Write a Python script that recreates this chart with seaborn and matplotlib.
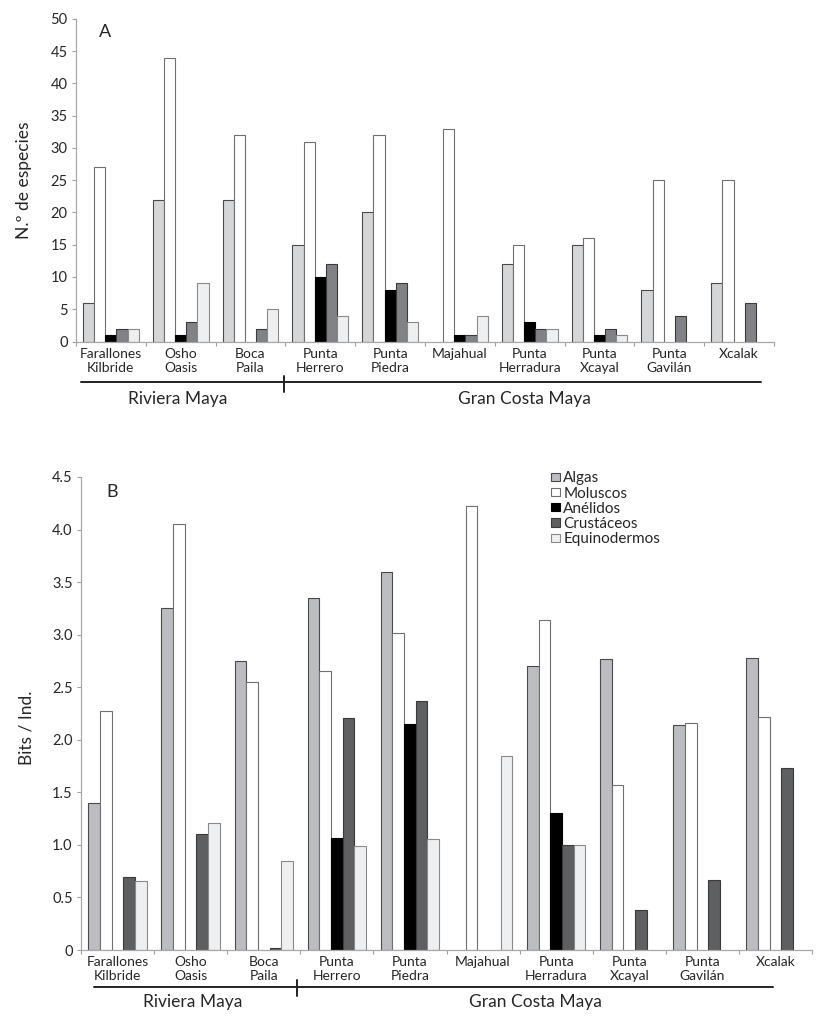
import matplotlib
matplotlib.use('Agg')
import matplotlib.pyplot as plt
from matplotlib.patches import Patch
from matplotlib.ticker import FuncFormatter, MultipleLocator, FixedLocator
import pandas as pd
import seaborn as sns

sites = ['Farallones\nKilbride', 'Osho\nOasis', 'Boca\nPaila', 'Punta\nHerrero', 'Punta\nPiedra',
         'Majahual', 'Punta\nHerradura', 'Punta\nXcayal', 'Punta\nGavilán', 'Xcalak']
groups = ['Algas', 'Moluscos', 'Anélidos', 'Crustáceos', 'Equinodermos']

# Panel A: number of species
species_algas = [6, 22, 22, 15, 20, 0, 12, 15, 8, 9]
species_moluscos = [27, 44, 32, 31, 32, 33, 15, 16, 25, 25]
species_anelidos = [1, 1, 0, 10, 8, 1, 3, 1, 0, 0]
species_crustaceos = [2, 3, 2, 12, 9, 1, 2, 2, 4, 6]
species_equinodermos = [2, 9, 5, 4, 3, 4, 2, 1, 0, 0]

# Panel B: diversity (bits / ind.)
div_algas = [1.40, 3.25, 2.75, 3.35, 3.60, 0, 2.70, 2.77, 2.14, 2.78]
div_moluscos = [2.27, 4.05, 2.55, 2.65, 3.02, 4.22, 3.14, 1.57, 2.16, 2.22]
div_anelidos = [0, 0, 0, 1.07, 2.15, 0, 1.30, 0, 0, 0]
div_crustaceos = [0.69, 1.10, 0.02, 2.21, 2.37, 0, 1.00, 0.38, 0.67, 1.73]
div_equinodermos = [0.66, 1.21, 0.85, 0.99, 1.06, 1.85, 1.00, 0, 0, 0]

regions = ['Riviera Maya', 'Gran Costa Maya']


def long_table(cols):
    rows = []
    for g, vals in zip(groups, cols):
        for s, v in zip(sites, vals):
            rows.append({'site': s, 'group': g, 'value': v})
    return pd.DataFrame(rows)


df_a = long_table([species_algas, species_moluscos, species_anelidos, species_crustaceos, species_equinodermos])
df_b = long_table([div_algas, div_moluscos, div_anelidos, div_crustaceos, div_equinodermos])

faces_a = ['#d5d6d8', '#ffffff', '#000000', '#818285', '#eeeff0']
faces_b = ['#bcbdc0', '#ffffff', '#000000', '#5e5f61', '#eeeff1']
edges = ['#4a4a4a', '#707070', '#000000', '#3a3a3a', '#8a8a8a']

sns.set_style('white')
plt.rcParams['font.family'] = ['Lato', 'DejaVu Sans']

fig = plt.figure(figsize=(8.26, 10.18), dpi=100)
ax_a = fig.add_axes([76 / 826, 1 - 341.5 / 1018, 698 / 826, 322.5 / 1018])
ax_b = fig.add_axes([81 / 826, 1 - 950 / 1018, 731 / 826, 473 / 1018])


def draw_panel(ax, df, faces, ymax, ystep, ylabel, letter, fmt):
    sns.barplot(data=df, x='site', y='value', hue='group', hue_order=groups,
                palette=faces, width=0.8, saturation=1, legend=False, ax=ax)
    for cont, ec in zip(ax.containers, edges):
        for bar in cont.patches:
            bar.set_edgecolor(ec)
            bar.set_linewidth(0.8 if bar.get_height() > 0 else 0)
    ax.set_xlim(-0.5, len(sites) - 0.5)
    ax.set_ylim(0, ymax)
    ax.yaxis.set_major_locator(MultipleLocator(ystep))
    ax.yaxis.set_major_formatter(FuncFormatter(fmt))
    ax.xaxis.set_minor_locator(FixedLocator([i - 0.5 for i in range(len(sites) + 1)]))
    ax.tick_params(axis='x', which='major', length=0, pad=4.5, labelsize=10)
    ax.tick_params(axis='x', which='minor', length=3, color='#a0a0a0', width=0.8, bottom=True)
    ax.tick_params(axis='y', length=3, color='#a0a0a0', width=0.8, labelsize=10.5, pad=3, left=True)
    for side in ['top', 'right']:
        ax.spines[side].set_visible(False)
    for side in ['left', 'bottom']:
        ax.spines[side].set_color('#a8a8a8')
        ax.spines[side].set_linewidth(0.9)
    ax.set_xlabel('')
    ax.set_ylabel(ylabel, fontsize=12.5)
    ax.text(0.042, 0.985, letter, transform=ax.transAxes, fontsize=13, va='top', ha='center')


draw_panel(ax_a, df_a, faces_a, 50, 5, 'N.º de especies', 'A', lambda v, p: '%d' % v)
draw_panel(ax_b, df_b, faces_b, 4.5, 0.5, 'Bits / Ind.', 'B',
           lambda v, p: '0' if v == 0 else '%.1f' % v)
ax_a.yaxis.set_label_coords(-0.063, 0.5)
ax_b.yaxis.set_label_coords(-0.064, 0.47)


def draw_regions(ax, x0, x1, xdiv, yline, ydiv, text_x, text_y):
    tr = ax.get_xaxis_transform()
    ax.plot([x0, x1], [yline, yline], color='#222222', lw=1.4, transform=tr, clip_on=False)
    ax.plot([xdiv, xdiv], ydiv, color='#222222', lw=1.4, transform=tr, clip_on=False)
    for name, tx in zip(regions, text_x):
        ax.text(tx, text_y, name, transform=tr, ha='center', va='center', fontsize=12.5)


draw_regions(ax_a, -0.43, 9.31, 2.48, -0.126, [-0.107, -0.156], [0.96, 5.93], -0.178)
draw_regions(ax_b, -0.32, 8.97, 2.46, -0.078, [-0.063, -0.097], [1.03, 5.71], -0.110)

handles = [Patch(facecolor=f, edgecolor=e, linewidth=0.8) for f, e in zip(faces_b, edges)]
ax_b.legend(handles, groups, loc='upper left', bbox_to_anchor=(0.643, 1.012), frameon=False,
            fontsize=11, handlelength=0.6, handleheight=0.45, handletextpad=0.2,
            labelspacing=0.08, borderaxespad=0, borderpad=0)

fig.savefig('out.png', dpi=100)
